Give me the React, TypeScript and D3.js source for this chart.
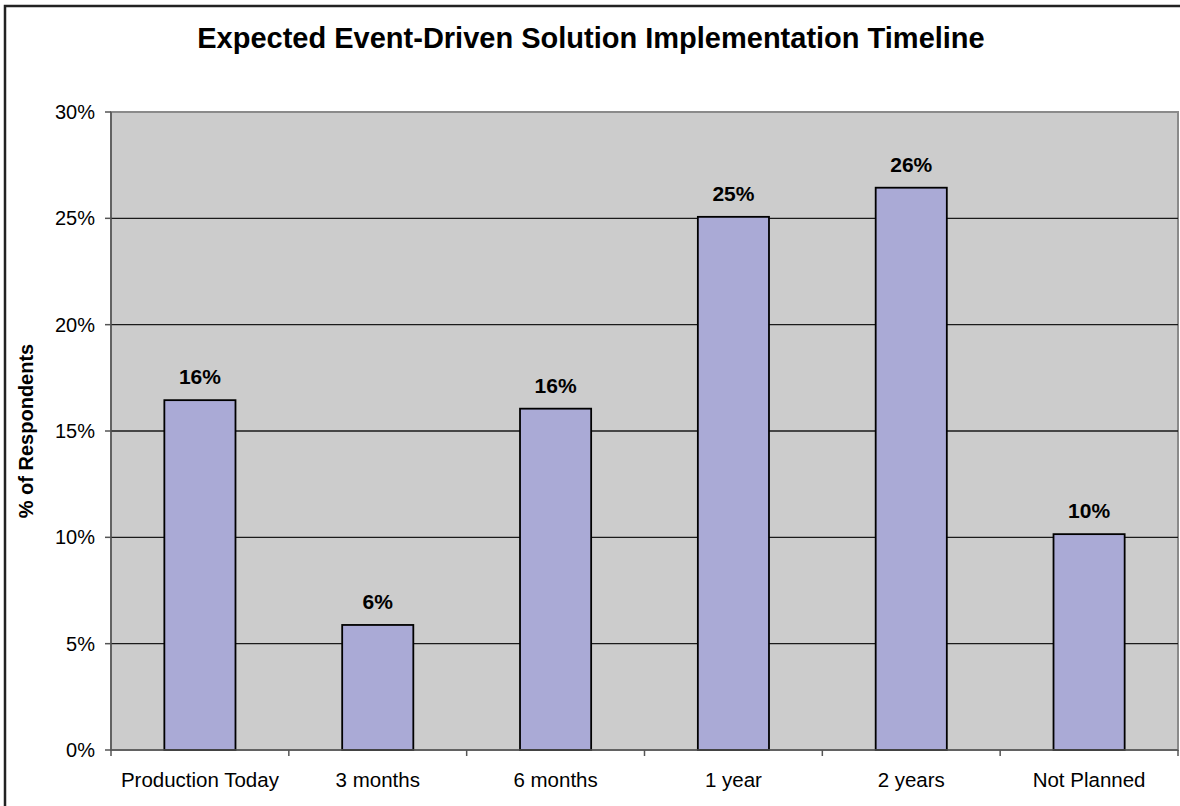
import React from "react";
import * as d3 from "d3";

const categories = ["Production Today", "3 months", "6 months", "1 year", "2 years", "Not Planned"];
const values = [16.45, 5.88, 16.05, 25.07, 26.44, 10.15];
const barLabels = ["16%", "6%", "16%", "25%", "26%", "10%"];
const yTicks = [0, 5, 10, 15, 20, 25, 30];
const yTickLabels = ["0%", "5%", "10%", "15%", "20%", "25%", "30%"];

if (typeof document !== "undefined") {
  document.body.style.margin = "0";
}

const W = 1180;
const H = 806;
const plot = { left: 111, right: 1178, top: 112, bottom: 750 };

export default function App() {
  const x = d3
    .scaleBand<string>()
    .domain(categories)
    .range([plot.left, plot.right])
    .paddingInner(0.6)
    .paddingOuter(0.3);
  const y = d3.scaleLinear().domain([0, 30]).range([plot.bottom, plot.top]);
  const step = x.step();
  const font = "Arial, 'Liberation Sans', Helvetica, sans-serif";

  return (
    <svg width={W} height={H} style={{ display: "block", background: "#fff" }} fontFamily={font}>
      {/* outer frame */}
      <rect x={5} y={6} width={W + 20} height={H + 20} fill="#fff" stroke="#222" strokeWidth={2.5} />
      <text x={591} y={48} textAnchor="middle" fontSize={29} fontWeight="bold" fill="#000">
        Expected Event-Driven Solution Implementation Timeline
      </text>
      {/* plot area */}
      <rect
        x={plot.left}
        y={plot.top}
        width={plot.right - plot.left}
        height={plot.bottom - plot.top}
        fill="#cccccc"
        stroke="#8a8a8a"
        strokeWidth={2}
      />
      {yTicks
        .filter((t) => t > 0 && t < 30)
        .map((t) => (
          <line key={t} x1={plot.left} x2={plot.right} y1={y(t)} y2={y(t)} stroke="#1a1a1a" strokeWidth={1.3} />
        ))}
      {/* bars */}
      {categories.map((c, i) => (
        <rect
          key={c}
          x={x(c)}
          y={y(values[i])}
          width={x.bandwidth()}
          height={y(0) - y(values[i])}
          fill="#aaaad6"
          stroke="#000"
          strokeWidth={1.8}
        />
      ))}
      {categories.map((c, i) => (
        <text
          key={c + "l"}
          x={(x(c) as number) + x.bandwidth() / 2}
          y={y(values[i]) - 16}
          textAnchor="middle"
          fontSize={21}
          fontWeight="bold"
          fill="#000"
        >
          {barLabels[i]}
        </text>
      ))}
      {/* y axis */}
      <line x1={plot.left} x2={plot.left} y1={plot.top} y2={plot.bottom + 6} stroke="#555" strokeWidth={1.5} />
      {yTicks.map((t, i) => (
        <g key={t}>
          <line x1={plot.left - 6} x2={plot.left} y1={y(t)} y2={y(t)} stroke="#555" strokeWidth={1.5} />
          <text x={95} y={y(t)} dy="0.35em" textAnchor="end" fontSize={20} fill="#000">
            {yTickLabels[i]}
          </text>
        </g>
      ))}
      {/* x axis */}
      <line x1={plot.left} x2={plot.right} y1={plot.bottom} y2={plot.bottom} stroke="#555" strokeWidth={1.5} />
      {categories.map((c, i) => (
        <line
          key={c + "t"}
          x1={plot.left + step * (i + 1)}
          x2={plot.left + step * (i + 1)}
          y1={plot.bottom}
          y2={plot.bottom + 6}
          stroke="#555"
          strokeWidth={1.5}
        />
      ))}
      {categories.map((c) => (
        <text
          key={c + "x"}
          x={(x(c) as number) + x.bandwidth() / 2}
          y={787}
          textAnchor="middle"
          fontSize={20.5}
          fill="#000"
        >
          {c}
        </text>
      ))}
      <text
        transform={`translate(33, ${(plot.top + plot.bottom) / 2}) rotate(-90)`}
        textAnchor="middle"
        fontSize={20}
        fontWeight="bold"
        fill="#000"
      >
        % of Respondents
      </text>
    </svg>
  );
}
